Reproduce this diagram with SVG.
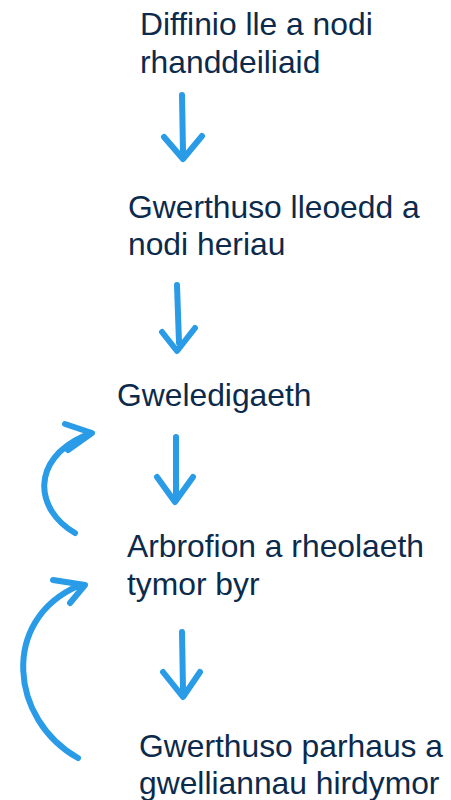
<svg xmlns="http://www.w3.org/2000/svg" width="451" height="800" viewBox="0 0 451 800">
<style>
.t{font-family:"Liberation Sans",Arial,sans-serif;font-size:31.8px;fill:#0c2a4b}
.a{fill:none;stroke:#2a9be6;stroke-width:6;stroke-linecap:round;stroke-linejoin:round}
</style>
<rect width="451" height="800" fill="#fff"/>
<g id="n1"><text class="t" x="140" y="35">Diffinio lle a nodi</text><text class="t" x="140" y="73">rhanddeiliaid</text></g>
<g id="n2"><text class="t" x="128" y="218">Gwerthuso lleoedd a</text><text class="t" x="128" y="255">nodi heriau</text></g>
<g id="n3"><text class="t" x="117" y="406">Gweledigaeth</text></g>
<g id="n4"><text class="t" x="127" y="557">Arbrofion a rheolaeth</text><text class="t" x="127" y="595">tymor byr</text></g>
<g id="n5"><text class="t" x="139" y="757">Gwerthuso parhaus a</text><text class="t" x="139" y="794">gwelliannau hirdymor</text></g>
<g id="connectors">
<path class="a" d="M182 95 L183 152 M164 137 L183 159 L202 136"/>
<path class="a" d="M177 285 L179 343 M162 332 L177 351 L195 328"/>
<path class="a" d="M176 437 L176 494 M157 477 L175 502 L193 477"/>
<path class="a" d="M182 632 L183 690 M163 672 L183 697 L200 672"/>
<path class="a" d="M75 533 C35 510 30 460 84 436 M65 424 L92 433 L68 450"/>
<path class="a" d="M78 758 C10 720 0 620 78 586 M53 580 L85 585 L70 603"/>
</g>
</svg>
